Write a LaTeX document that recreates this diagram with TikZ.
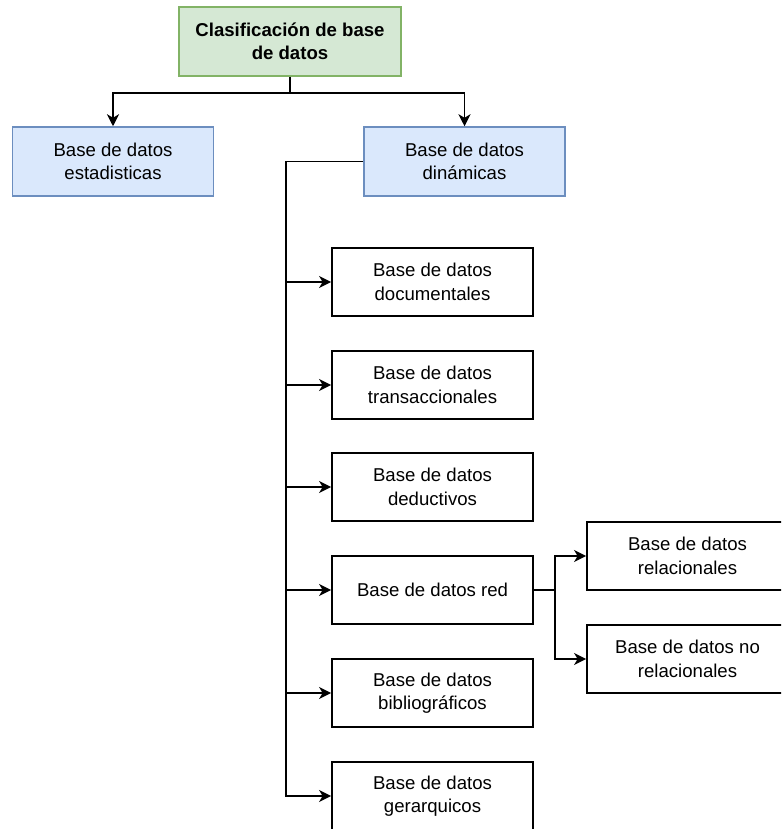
\documentclass[tikz,border=0pt]{standalone}
\usepackage{fontspec}
\setmainfont{Liberation Sans}
\usetikzlibrary{arrows.meta}
\definecolor{greenfill}{HTML}{D5E8D4}
\definecolor{greenline}{HTML}{82B366}
\definecolor{bluefill}{HTML}{DAE8FC}
\definecolor{blueline}{HTML}{6C8EBF}
\tikzset{
  box/.style={draw=black, line width=1.8pt, minimum width=201pt, minimum height=68pt,
    align=center, inner sep=2pt, font=\fontsize{18.6}{23.5}\selectfont},
  greenbox/.style={box, fill=greenfill, draw=greenline, line width=1.5pt,
    minimum width=222pt, minimum height=69pt, font=\fontsize{18.6}{23.5}\selectfont\bfseries},
  bluebox/.style={box, fill=bluefill, draw=blueline, line width=1.5pt, minimum height=69pt},
  link/.style={line width=1.8pt, draw=black},
  arr/.style={link, -{Stealth[length=12pt,width=12pt,inset=3.5pt]}}
}
\begin{document}
\begin{tikzpicture}[x=1pt, y=-1pt]
\useasboundingbox (0,0) rectangle (781,829);
\clip (0,0) rectangle (781,829);
\fill[white] (0,0) rectangle (781,829);

% root and first level
\node[greenbox] (root) at (290,41.5) {Clasificación de base\\de datos};
\node[bluebox] (est) at (113,161.5) {Base de datos\\estadisticas};
\node[bluebox] (dyn) at (464.5,161.5) {Base de datos\\dinámicas};

% kinds of dynamic databases
\node[box] (doc) at (432.5,282) {Base de datos\\documentales};
\node[box] (tra) at (432.5,385) {Base de datos\\transaccionales};
\node[box] (ded) at (432.5,487) {Base de datos\\deductivos};
\node[box] (red) at (432.5,590) {Base de datos red};
\node[box] (bib) at (432.5,693) {Base de datos\\bibliográficos};
\node[box] (ger) at (432.5,796) {Base de datos\\gerarquicos};

% kinds of network databases
\node[box] (rel) at (687.5,556) {Base de datos\\relacionales};
\node[box] (nor) at (687.5,659) {Base de datos no\\relacionales};

% connectors
\coordinate (split) at (290,93);
\draw[link] (root.south) -- (split);
\draw[arr] (split) -| (est.north);
\draw[arr] (split) -| (dyn.north);

\coordinate (trunk) at (286,161.5);
\draw[link] (dyn.west) -- (trunk);
\draw[arr] (trunk) |- (doc.west);
\draw[arr] (trunk) |- (tra.west);
\draw[arr] (trunk) |- (ded.west);
\draw[arr] (trunk) |- (red.west);
\draw[arr] (trunk) |- (bib.west);
\draw[arr] (trunk) |- (ger.west);

\coordinate (fork) at (555,590);
\draw[link] (red.east) -- (fork);
\draw[arr] (fork) |- (rel.west);
\draw[arr] (fork) |- (nor.west);
\end{tikzpicture}
\end{document}
